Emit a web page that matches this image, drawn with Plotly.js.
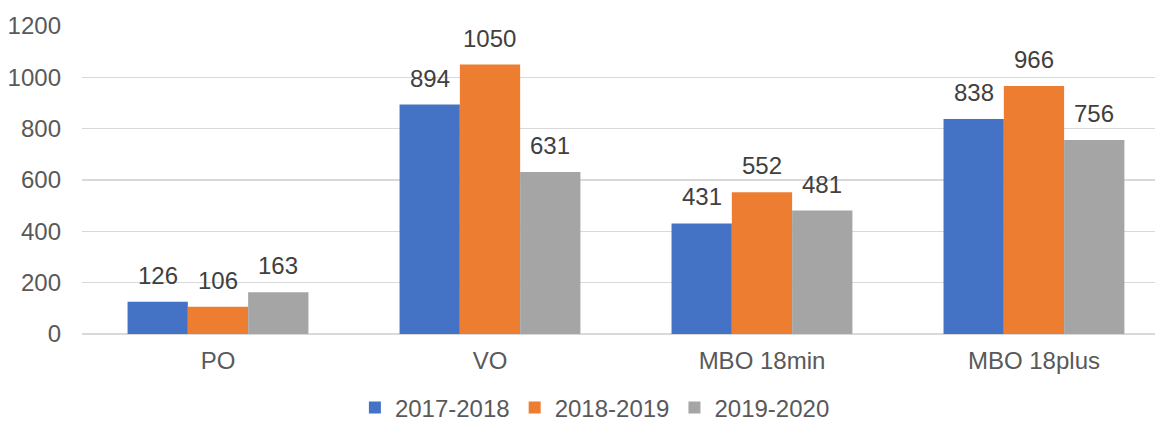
<!DOCTYPE html>
<html>
<head>
<meta charset="utf-8">
<script src="https://cdn.plot.ly/plotly-3.0.1.min.js"></script>
<style>html,body{margin:0;padding:0;background:#fff;}#chart{width:1157px;height:424px;}</style>
</head>
<body>
<div id="chart"></div>
<script>
const categories = ["PO", "VO", "MBO 18min", "MBO 18plus"];
const seriesNames = ["2017-2018", "2018-2019", "2019-2020"];
const values2017 = [126, 894, 431, 838];
const values2018 = [106, 1050, 552, 966];
const values2019 = [163, 631, 481, 756];
const colors = ["#4472C4", "#ED7D31", "#A5A5A5"];
const yTicks = [0, 200, 400, 600, 800, 1000, 1200];

const FONT = "Liberation Sans, Arial, sans-serif";
const FS = 24;
const allValues = [values2017, values2018, values2019];
const traces = allValues.map((vals, i) => ({
  type: "bar",
  name: seriesNames[i],
  x: categories,
  y: vals,
  marker: {color: colors[i], line: {width: 0}},
  hoverinfo: "skip"
}));

// data labels above each bar, placed by the axes' own scales
const catPx = 272;            // px per category
const bargap = 0.335;
const barPx = catPx * (1 - bargap) / allValues.length;
const annotations = [];
allValues.forEach((vals, i) => {
  vals.forEach((v, j) => {
    annotations.push({
      x: categories[j], y: v, xref: "x", yref: "y",
      text: String(v), showarrow: false,
      xanchor: "center", yanchor: "bottom",
      xshift: (i - (allValues.length - 1) / 2) * barPx,
      yshift: 11,
      font: {family: FONT, size: FS, color: "#404040"}
    });
  });
});

const layout = {
  width: 1157,
  height: 424,
  paper_bgcolor: "#ffffff",
  plot_bgcolor: "#ffffff",
  margin: {l: 82, r: 2, t: 26, b: 89.5, autoexpand: false},
  barmode: "group",
  bargap: bargap,
  bargroupgap: 0,
  font: {family: FONT, size: FS, color: "#595959"},
  xaxis: {
    type: "category",
    range: [-0.5, 3.445],
    showgrid: false,
    showline: false,
    ticks: "",
    ticklabelstandoff: 10,
    tickfont: {family: FONT, size: FS, color: "#595959"},
    fixedrange: true
  },
  yaxis: {
    range: [0, 1200],
    tickvals: yTicks,
    ticktext: yTicks.map(String),
    showgrid: true,
    gridcolor: "#D9D9D9",
    gridwidth: 1.3,
    zeroline: true,
    zerolinecolor: "#D9D9D9",
    zerolinewidth: 1.3,
    showline: false,
    ticks: "",
    ticklabelstandoff: 20,
    tickfont: {family: FONT, size: FS, color: "#595959"},
    fixedrange: true
  },
  annotations: annotations,
  showlegend: true,
  legend: {
    orientation: "h",
    x: 0.478,
    xanchor: "center",
    y: -0.24,
    yanchor: "middle",
    font: {family: FONT, size: FS, color: "#595959"},
    itemwidth: 30,
    traceorder: "normal",
    itemclick: false,
    itemdoubleclick: false
  }
};

Plotly.newPlot("chart", traces, layout, {displayModeBar: false, staticPlot: true});
</script>
</body>
</html>
